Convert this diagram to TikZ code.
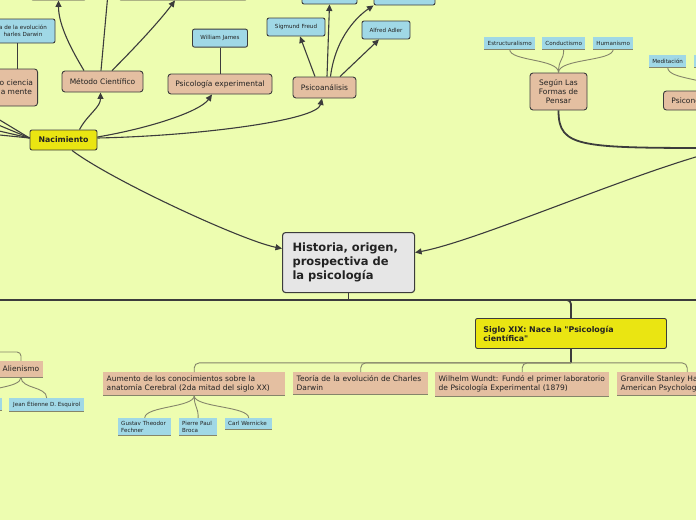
\documentclass[tikz,border=0pt]{standalone}
\usepackage{fontspec}
\setmainfont{DejaVu Sans}
\usepackage{xcolor}
\usepackage{tikz}
\usetikzlibrary{positioning,arrows.meta,calc}
\definecolor{cBg}{HTML}{EDFDB0}
\definecolor{cTan}{HTML}{E4BFA1}
\definecolor{cBlue}{HTML}{A0D8E6}
\definecolor{cYel}{HTML}{EAE512}
\definecolor{cRoot}{HTML}{E6E6E6}
\definecolor{cInk}{HTML}{3C3C3C}
\definecolor{cText}{HTML}{222222}
\definecolor{cTie}{HTML}{85856A}

\begin{document}
\begin{tikzpicture}[x=1pt, y=-1pt,
  line/.style={-{Triangle[length=6.5pt,width=6pt]}, cInk, line width=1.1pt},
  link/.style={cInk, line width=1pt},
  tie/.style={cTie, line width=0.9pt},
  trunk/.style={cInk, line width=1.8pt},
  uline/.style={cTie, line width=0.8pt},
  root/.style={draw=cInk, fill=cRoot, line width=1.1pt, rounded corners=3pt, font=\fontsize{11.5}{14}\selectfont\bfseries, text=cText, align=left, text width=112pt, inner xsep=10pt, minimum height=60},
  topic/.style={draw=cInk, fill=cYel, line width=0.9pt, rounded corners=2pt, font=\fontsize{7.8}{9}\selectfont\bfseries, text=cText, inner sep=0pt},
  sub/.style={draw=cInk, fill=cTan, line width=0.9pt, rounded corners=3pt, font=\fontsize{7.5}{9}\selectfont, text=cText, align=center, inner sep=2pt},
  leaf/.style={draw=cInk, fill=cBlue, line width=0.9pt, rounded corners=2pt, font=\fontsize{5.6}{6.5}\selectfont, text=cText, align=center, inner sep=2pt},
  flat/.style={fill=cTan, font=\fontsize{7.5}{9}\selectfont, text=cText, align=left, inner xsep=3.5pt, inner ysep=3.5pt, anchor=north west},
  tag/.style={fill=cBlue, font=\fontsize{5.6}{6.5}\selectfont, text=cText, align=left, inner xsep=3pt, inner ysep=3.2pt},
]
\useasboundingbox (0,0) rectangle (696,520);
\fill[cBg] (0,0) rectangle (696,520);

% ---------- central topic ----------
\node[root, anchor=north west] (root) at (282,232) {Historia, origen,\\prospectiva de\\la psicología};

% ---------- Nacimiento branch ----------
\node[topic, minimum width=67, minimum height=20] (nac) at (63.5,140) {Nacimiento};
\node[sub, minimum width=81, minimum height=21] (met) at (102.5,81.5) {Método Científico};
\node[sub, minimum width=104, minimum height=20] (pexp) at (220,84) {Psicología experimental};
\node[sub, minimum width=63, minimum height=21] (psa) at (324.5,87.5) {Psicoanálisis};
\node[sub, anchor=east, align=center, inner xsep=4.5pt, minimum height=37] (mente) at (38,87.5) {o ciencia\\a mente};
\node[leaf, minimum width=64, minimum height=24] (evo) at (23,31) {a de la evolución\\harles Darwin};
\node[leaf, minimum width=55, minimum height=18, above=26pt of pexp] (wj) {William James};
\node[leaf, minimum width=58, minimum height=18] (freud) at (296,27) {Sigmund Freud};
\node[leaf, minimum width=48, minimum height=18] (adler) at (386,30) {Alfred Adler};
\node[leaf, minimum width=55, minimum height=18] (topA) at (329.5,-5) {};
\node[leaf, minimum width=61, minimum height=18] (topB) at (404.5,-4) {};
\node[sub, minimum width=57, minimum height=20] (tlA) at (58.5,-10) {};
\node[sub, minimum width=130, minimum height=20] (tlB) at (183,-10) {};
\coordinate (tlC) at (111,-40);

\draw[link] ([xshift=-6pt]evo.south) -- ([xshift=-6pt]evo.south |- mente.north);
\draw[link] (wj) -- (pexp);

\draw[line] ([xshift=16pt]nac.north) .. controls +(8,-15) and +(0,15) .. ([xshift=-2pt]met.south);
\draw[line] ([yshift=3pt]nac.east) .. controls +(53,-9) and +(-12,17) .. ([xshift=-8pt]pexp.south);
\draw[line] ([yshift=2pt]nac.east) .. controls +(100,-2) and +(-5,22) .. ([xshift=-2.5pt]psa.south);
\draw[line] ([xshift=8.5pt]nac.south) .. controls +(40,30) and +(-40,-8) .. ([yshift=14pt]root.west);
% lines leaving to the left
\foreach \yy in {96,109,122,131}
  \draw[line] ([yshift=2pt]nac.west) -- (-40,\yy);

\draw[line] ([xshift=-18.5pt]met.north) .. controls +(-12,-20) and +(0,25) .. (tlA.south);
\draw[line] ([xshift=-1.5pt]met.north) -- (tlC);
\draw[line] ([xshift=9.5pt]met.north) .. controls +(25,-25) and +(-15,20) .. ([xshift=-8pt]tlB.south);

\draw[line] ([xshift=-9.5pt]psa.north) -- ([xshift=4pt]freud.south);
\draw[line] ([xshift=2.5pt]psa.north) -- (topA.south);
\draw[line] ([xshift=6pt]psa.north) .. controls +(5,-40) and +(-15,10) .. (topB.south west);
\draw[line] ([xshift=15.5pt]psa.north) -- ([xshift=-7pt]adler.south);

% ---------- schools of thought ----------
\node[sub, minimum width=57, minimum height=37] (seg) at (558.5,91.5) {Según Las\\Formas de\\Pensar};
\node[tag, anchor=north west, minimum width=51, minimum height=12] (est) at (484,37) {Estructuralismo};
\node[tag, anchor=north west, minimum width=43, minimum height=12] (con) at (542,37) {Conductismo};
\node[tag, anchor=north west, minimum width=40, minimum height=12] (hum) at (593,37) {Humanismo};
\foreach \n in {est,con,hum}
  \draw[tie] (\n.south) .. controls +(0,12) and +(0,-14) .. (seg.north);

\node[tag, anchor=north west, minimum width=37, minimum height=12] (med) at (649,55) {Meditación};
\node[tag, anchor=north west, minimum width=40, minimum height=12] (medB) at (694,55) {};
\node[sub, anchor=west, align=left, text width=84, inner xsep=8pt, minimum height=19] (psn) at (663,100.5) {Psicone};
\draw[tie] (med.south) .. controls +(0,13) and +(0,-13) .. (psn.north);

\coordinate (hubR) at (730,148);
\draw[trunk] (seg.south) .. controls +(0,38) and +(-150,0) .. (hubR);
\draw[line] (hubR) .. controls +(-80,17) and +(65,-12) .. ([yshift=10pt]root.east);

% ---------- lower tree ----------
\coordinate (busL) at (-20,300);
\coordinate (busR) at (716,300);
\draw[trunk] (busL) -- (busR);
\draw[trunk] (root.south) -- (root.south |- busL);
\node[topic, anchor=north west, align=left, text width=175, inner xsep=8pt, minimum height=30, font=\fontsize{7.9}{9}\selectfont\bfseries] (sig) at (475,318) {Siglo XIX: Nace la \textquotedbl Psicología\\científica\textquotedbl};
\draw[trunk, rounded corners=4pt] (root.south |- busL) -| (sig.north);

\node[flat, text width=175] (aum) at (103,372) {Aumento de los conocimientos sobre la\\anatomía Cerebral (2da mitad del siglo XX)};
\node[flat, text width=128] (teo) at (293,372) {Teoría de la evolución de Charles\\Darwin};
\node[flat, text width=167] (wun) at (435,372) {Wilhelm Wundt: Fundó el primer laboratorio\\de Psicología Experimental (1879)};
\node[flat, text width=133] (gra) at (617,372) {Granville Stanley Ha\\American Psycholog};

\coordinate (sigB) at ([yshift=-14pt]sig.south);
\draw[cInk, line width=1.2pt] (sig.south) -- (sigB);
\foreach \n in {aum,teo,wun,gra}
  \draw[tie, rounded corners=5pt] (sigB) -| (\n.north);

\node[tag, anchor=north west, text width=47] (gus) at (118,418) {Gustav Theodor\\Fechner};
\node[tag, anchor=north west, text width=32] (pie) at (179,418) {Pierre Paul\\Broca};
\node[tag, anchor=north west, text width=41] (car) at (225,418) {Carl Wernicke};
\foreach \n in {gus,pie,car}
  \draw[tie] (aum.south) .. controls +(0,12) and +(0,-12) .. (\n.north);

% Alienismo, coming in from the left
\coordinate (aliP) at (-20,352);
\node[flat, anchor=east, minimum height=16] (ali) at (43,369) {Alienismo};
\draw[tie, rounded corners=4pt] (aliP) -| (ali.north);
\node[tag, anchor=north west, minimum width=75, minimum height=12] (esq) at (9,398) {Jean Étienne D. Esquirol};
\node[tag, anchor=north west, minimum width=42, minimum height=12] (alo) at (-40,398) {};
\foreach \n in {esq,alo}
  \draw[tie] (ali.south) .. controls +(0,12) and +(0,-12) .. (\n.north);

% underlines of the flat nodes
\foreach \n in {aum,teo,wun,gra,ali,gus,pie,car,est,con,hum,med,medB,esq,alo}
  \draw[uline] (\n.south west) -- (\n.south east);

\end{tikzpicture}
\end{document}
